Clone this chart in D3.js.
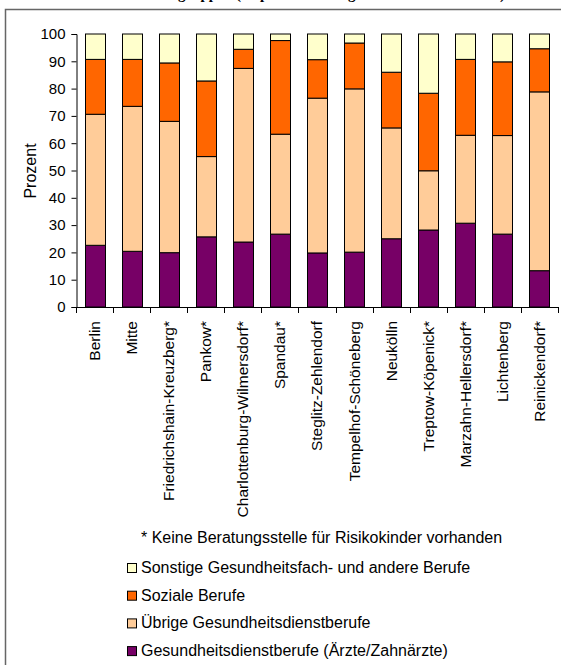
<!DOCTYPE html>
<html>
<head>
<meta charset="utf-8">
<script src="https://cdn.jsdelivr.net/npm/d3@7"></script>
<style>
  body { margin: 0; background: #fff; }
  svg { display: block; }
</style>
</head>
<body>
<div id="chart"></div>
<script>
var districts = ["Berlin", "Mitte", "Friedrichshain-Kreuzberg*", "Pankow*", "Charlottenburg-Wilmersdorf*",
  "Spandau*", "Steglitz-Zehlendorf", "Tempelhof-Schöneberg", "Neukölln", "Treptow-Köpenick*",
  "Marzahn-Hellersdorf*", "Lichtenberg", "Reinickendorf*"];

// Prozentanteile je Berufsgruppe
var aerzte   = [22.6, 20.4, 19.9, 25.7, 23.8, 26.7, 19.8, 20.1, 25.0, 28.2, 30.7, 26.7, 13.3];
var uebrige  = [48.0, 53.1, 48.1, 29.4, 63.6, 36.6, 56.7, 59.8, 40.6, 21.7, 32.2, 36.1, 65.5];
var soziale  = [20.1, 17.2, 21.4, 27.7,  7.0, 34.3, 14.1, 16.8, 20.4, 28.4, 27.8, 27.0, 15.8];
var sonstige = [ 9.3,  9.3, 10.6, 17.2,  5.6,  2.4,  9.4,  3.3, 14.0, 21.7,  9.3, 10.2,  5.4];

var seriesNames = ["Gesundheitsdienstberufe (Ärzte/Zahnärzte)", "Übrige Gesundheitsdienstberufe",
  "Soziale Berufe", "Sonstige Gesundheitsfach- und andere Berufe"];
var yTicks = [0, 10, 20, 30, 40, 50, 60, 70, 80, 90, 100];
var footnote = "* Keine Beratungsstelle für Risikokinder vorhanden";

var colors = ["#770066", "#ffcc99", "#ff6600", "#ffffcc"];

var width = 561, height = 665;
var font = "'Liberation Sans', Arial, sans-serif";

var svg = d3.select("#chart").append("svg")
  .attr("width", width)
  .attr("height", height);

// Rahmen (nur links und oben sichtbar)
svg.append("path")
  .attr("d", "M5.5," + height + "V9.5H" + width)
  .attr("fill", "none")
  .attr("stroke", "#666")
  .attr("stroke-width", 1.5);

// Titel, oben abgeschnitten wie im Original
svg.append("text")
  .attr("x", 505).attr("y", -1)
  .attr("text-anchor", "end")
  .style("font-family", "'Liberation Serif', 'Times New Roman', serif")
  .style("font-weight", "bold")
  .style("font-size", "15px")
  .text("Berufsgruppen (Kopfzahlen bezogen auf alle Mitarbeiter)");

var rows = districts.map(function(d, i) {
  return { name: d, a: aerzte[i], u: uebrige[i], s: soziale[i], o: sonstige[i] };
});

var stack = d3.stack().keys(["a", "u", "s", "o"]);
var layers = stack(rows);

var x = d3.scaleBand()
  .domain(districts)
  .range([76, 558])
  .paddingInner(0.46)
  .paddingOuter(0.23);

var y = d3.scaleLinear().domain([0, 100]).range([307, 34]);

var g = svg.append("g");

g.selectAll(".layer")
  .data(layers)
  .enter().append("g")
  .attr("class", "layer")
  .attr("fill", function(d, i) { return colors[i]; })
  .selectAll("rect")
  .data(function(d) { return d; })
  .enter().append("rect")
  .attr("x", function(d) { return Math.round(x(d.data.name)) + 0.5; })
  .attr("width", Math.round(x.bandwidth()))
  .attr("y", function(d) { return y(d[1]); })
  .attr("height", function(d) { return y(d[0]) - y(d[1]); })
  .attr("stroke", "#000")
  .attr("stroke-width", 1);

// y-Achse
var yAxis = d3.axisLeft(y).tickValues(yTicks).tickSize(5).tickPadding(6);
var yg = svg.append("g")
  .attr("transform", "translate(76.5,0)")
  .call(yAxis);
yg.selectAll("text").style("font-family", font).style("font-size", "15px").attr("fill", "#000");

// x-Achse mit Strichen zwischen den Kategorien
var step = x.step();
svg.append("line")
  .attr("x1", 76).attr("x2", 558)
  .attr("y1", 307.5).attr("y2", 307.5)
  .attr("stroke", "#000");
svg.selectAll(".xtick")
  .data(d3.range(districts.length + 1))
  .enter().append("line")
  .attr("class", "xtick")
  .attr("x1", function(i) { return Math.round(76 + i * step) + 0.5; })
  .attr("x2", function(i) { return Math.round(76 + i * step) + 0.5; })
  .attr("y1", 307).attr("y2", 313)
  .attr("stroke", "#000");

svg.selectAll(".xlabel")
  .data(districts)
  .enter().append("text")
  .attr("class", "xlabel")
  .attr("transform", function(d) {
    return "translate(" + (x(d) + x.bandwidth() / 2) + ",321) rotate(-90)";
  })
  .attr("dy", "0.35em")
  .attr("text-anchor", "end")
  .style("font-family", font)
  .style("font-size", "15.5px")
  .text(function(d) { return d; });

svg.append("text")
  .attr("transform", "translate(30,171) rotate(-90)")
  .attr("dy", "0.35em")
  .attr("text-anchor", "middle")
  .style("font-family", font)
  .style("font-size", "16px")
  .text("Prozent");

// Fussnote und Legende
svg.append("text")
  .attr("x", 141).attr("y", 543)
  .style("font-family", font)
  .style("font-size", "16px")
  .text(footnote);

var legendOrder = [3, 2, 1, 0];
var legend = svg.selectAll(".legend")
  .data(legendOrder)
  .enter().append("g")
  .attr("class", "legend")
  .attr("transform", function(d, i) { return "translate(0," + (573 + i * 27.7) + ")"; });

legend.append("rect")
  .attr("x", 127.5).attr("y", -9.5)
  .attr("width", 9).attr("height", 9)
  .attr("fill", function(d) { return colors[d]; })
  .attr("stroke", "#000");

legend.append("text")
  .attr("x", 141).attr("y", 0)
  .style("font-family", font)
  .style("font-size", "16px")
  .text(function(d) { return seriesNames[d]; });
</script>
</body>
</html>
